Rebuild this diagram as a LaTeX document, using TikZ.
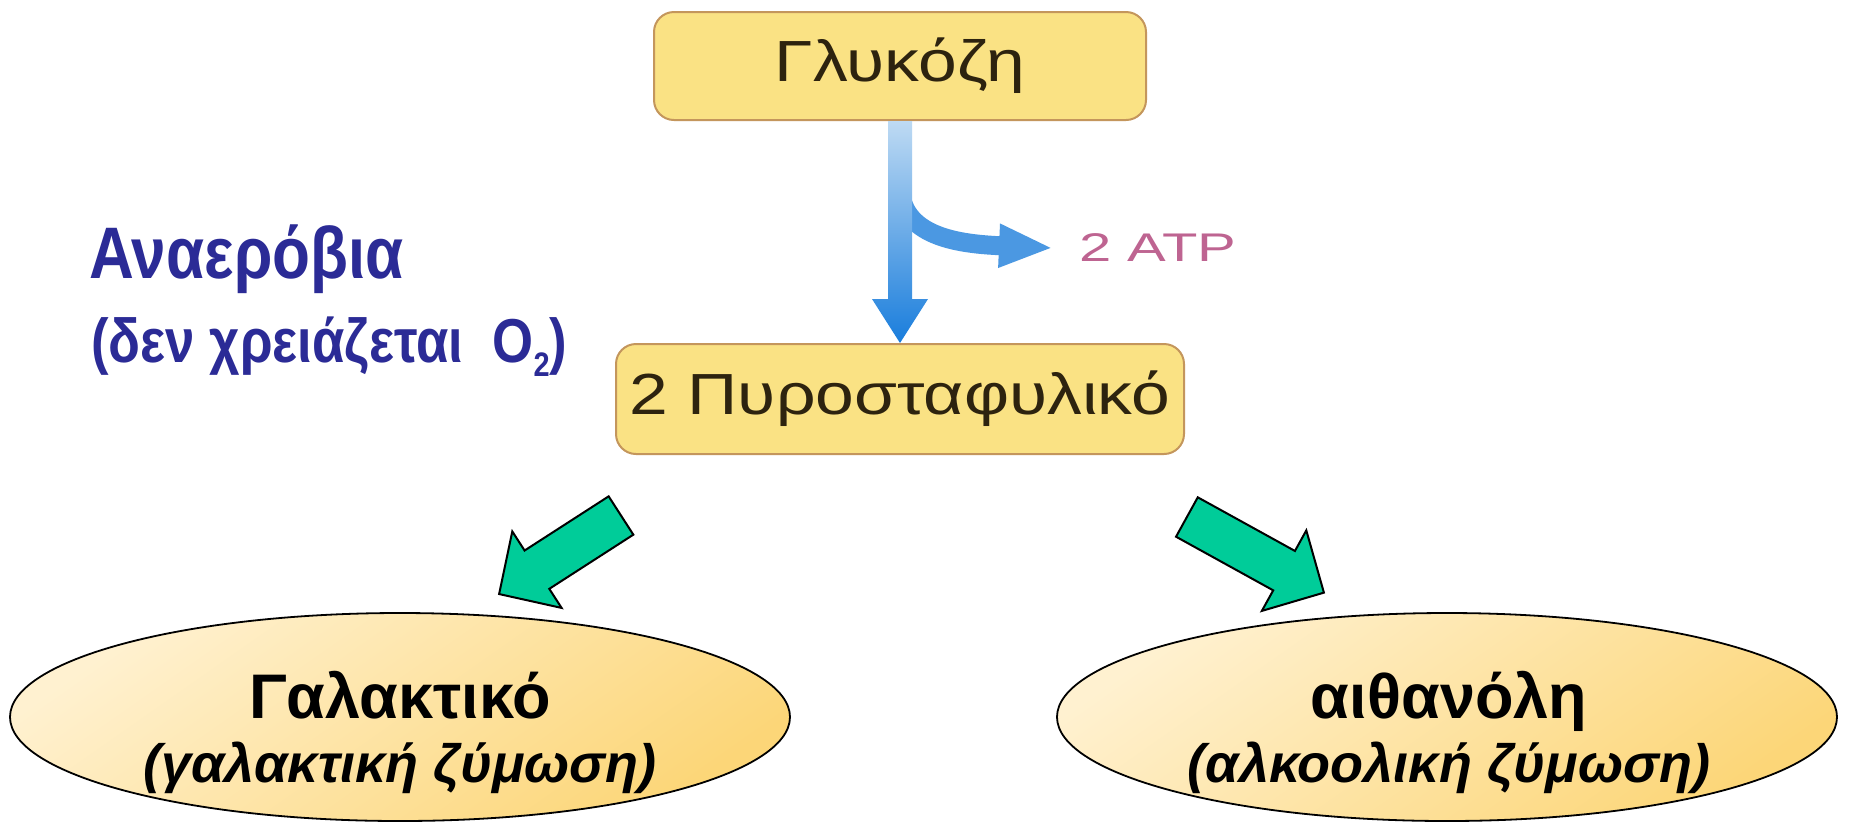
\documentclass[tikz,border=0pt]{standalone}
\usepackage{fontspec}
\setmainfont{Liberation Sans}
\newfontfamily\boxfont[FakeStretch=1.2]{Liberation Sans}
\newfontfamily\atpfont[FakeStretch=1.45]{Liberation Sans}
\newfontfamily\notefont[FakeStretch=0.85]{Liberation Sans}
\usetikzlibrary{positioning,shapes.geometric,arrows.meta}

\definecolor{navy}{RGB}{43,43,150}
\definecolor{boxfill}{RGB}{250,226,132}
\definecolor{boxline}{RGB}{196,150,92}
\definecolor{boxtext}{RGB}{45,35,15}
\definecolor{atppink}{RGB}{190,100,145}
\definecolor{flowlight}{RGB}{190,218,243}
\definecolor{flowdark}{RGB}{25,125,220}
\definecolor{flowmid}{RGB}{75,152,226}
\definecolor{seagreen}{RGB}{0,204,153}
\definecolor{ellight}{RGB}{255,241,208}
\definecolor{eldark}{RGB}{252,214,120}

\begin{document}
\begin{tikzpicture}[
        x=0.5pt, y=-0.5pt,
        stage/.style={draw=boxline, line width=1pt, fill=boxfill, rounded corners=10pt,
                      text=boxtext, font=\boxfont\fontsize{29}{34}\selectfont, inner sep=0pt},
        product/.style={ellipse, draw=black, line width=0.9pt, top color=ellight,
                        bottom color=eldark, shading angle=35,
                        minimum width=390pt, minimum height=104pt, inner sep=0pt},
        prodname/.style={font=\bfseries\fontsize{31.5}{38}\selectfont, inner sep=0pt, anchor=base},
        prodnote/.style={font=\bfseries\itshape\fontsize{27}{32}\selectfont, inner sep=0pt, anchor=base},
        note/.style={text=navy, inner sep=0pt, anchor=base west},
        fork/.style={fill=seagreen, draw=black, line width=1pt, line join=miter}
        ]
        \useasboundingbox[fill=white] (0,0) rectangle (1849,821);

        \node[stage, minimum width=246pt, minimum height=54pt] (gluc) at (900,66) {Γλυκόζη};
        \node[stage, minimum width=284pt, minimum height=55pt, below=111pt of gluc] (pyr) {2 Πυροσταφυλικό};
        \node[font=\atpfont\fontsize{20}{24}\selectfont, text=atppink, inner sep=0pt, anchor=west]
            (atp) at (1079,248) {2 ATP};

        \node[note, font=\notefont\bfseries\fontsize{36.5}{42}\selectfont] (anaer) at (89,278) {Αναερόβια};
        \node[note, font=\notefont\bfseries\fontsize{31}{36}\selectfont] (noOx) at (91,362)
            {(δεν χρειάζεται\ \ O\raisebox{-7pt}{\fontsize{17}{17}\selectfont 2})};

        \node[product] (lactic) at (400,717) {};
        \node[product] (ethanol) at (1447,717) {};
        \node[prodname] (lacticName) at ([yshift=-0.5pt]lactic.center) {Γαλακτικό};
        \node[prodnote] (lacticNote) at ([yshift=-32.5pt]lactic.center) {(γαλακτική ζύμωση)};
        \node[prodname] (ethanolName) at ([xshift=1pt,yshift=-0.5pt]ethanol.center) {αιθανόλη};
        \node[prodnote] (ethanolNote) at ([xshift=1pt,yshift=-32.5pt]ethanol.center) {(αλκοολική ζύμωση)};

        % side branch giving off ATP, then the main flow
        \draw[line width=9.5pt, flowmid, -{Triangle[width=20pt,length=27pt]}]
            ([yshift=-32pt]gluc.south) .. controls ([yshift=-58pt]gluc.south)
            and ([xshift=-60pt,yshift=2pt]atp.west) .. ([xshift=-13pt]atp.west);
        \shade[top color=flowlight, bottom color=flowdark]
            ([xshift=-6pt]gluc.south) -- ([xshift=-6pt,yshift=22pt]pyr.north)
            -- ([xshift=-14pt,yshift=22pt]pyr.north) -- (pyr.north)
            -- ([xshift=14pt,yshift=22pt]pyr.north) -- ([xshift=6pt,yshift=22pt]pyr.north)
            -- ([xshift=6pt]gluc.south) -- cycle;

        \draw[fork, shift={(621,515.5)}, rotate=212.8]
            (0,-22.8) -- (100,-22.8) -- (100,-45.5) -- (145,0) -- (100,45.5) -- (100,22.8) -- (0,22.8) -- cycle;
        \draw[fork, shift={(1186.9,517)}, rotate=-28.9]
            (0,-22.5) -- (111,-22.5) -- (111,-46) -- (156.5,0) -- (111,46) -- (111,22.5) -- (0,22.5) -- cycle;
\end{tikzpicture}
\end{document}
